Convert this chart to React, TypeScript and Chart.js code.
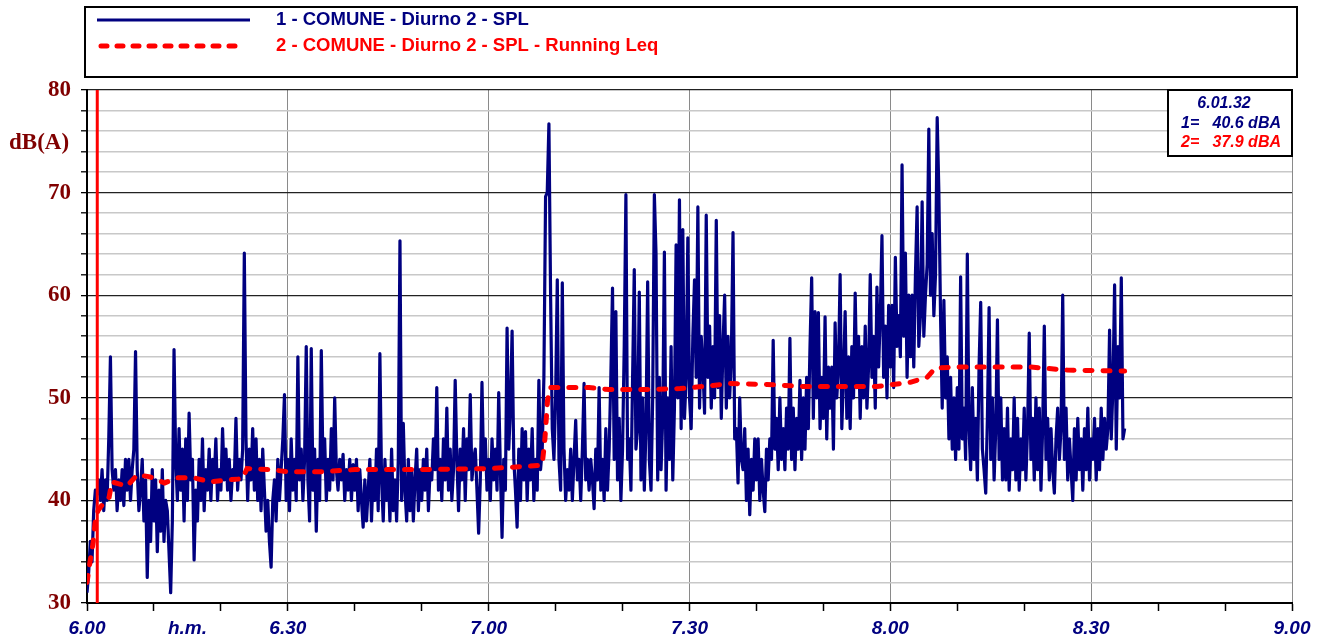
import { useEffect, useRef } from 'react';
import { Chart, registerables } from 'chart.js';

Chart.register(...registerables);

// ---- data ----
const SAMPLE_STEP_MIN = 0.25; // minutes between SPL samples (starting at 6.00)

// SPL values, 4 per minute (6.00 .. 8.35)
const splValues = [
  31, 33, 36, 34, 39, 41, 40.6, 42, 40, 43, 39, 42, 40, 46, 54, 43, 41, 43, 39, 42,
  40, 43, 39.5, 44, 41, 44, 40, 43, 45, 54.5, 43, 39, 41, 44, 38, 42, 32.5, 40, 36, 43,
  38, 42, 35, 41, 37, 43, 36, 40, 39, 35, 31, 38, 54.7, 44, 40, 47, 41, 45, 38, 46,
  40, 48.5, 42, 44, 34.2, 41, 38, 44, 40, 46, 39, 43, 41, 45, 40, 44, 42, 46, 40, 43,
  41, 47, 42, 45, 41, 44, 40, 43, 42, 48, 41, 44, 42, 45, 64.1, 46, 40, 45, 42, 47,
  41, 46, 40, 44, 39, 45, 41, 37, 40, 36, 33.5, 40, 42, 38, 44, 40, 43, 46, 50.3, 40,
  44, 39, 46, 41, 44, 40, 54, 42, 45, 40, 44, 55, 42, 38, 54.8, 41, 45, 37, 44, 40,
  54.6, 43, 46, 40, 44, 41, 47, 42, 50, 43, 41, 44, 42, 44.5, 40, 43, 41, 44, 40, 43.5,
  41, 44, 39, 43, 40, 37.4, 42, 38, 41, 44, 38, 43, 40, 45, 39, 54.3, 42, 38, 44, 40,
  43, 38, 45, 39, 42, 38, 44, 65.3, 40, 47.5, 41, 38, 44, 39, 43, 38, 42, 45, 39, 43,
  40, 44, 41, 45, 39, 43, 42, 46, 43, 51, 41, 44, 40, 46, 42, 49, 41, 45, 40, 43,
  51.7, 44, 39, 45, 42, 47, 40, 46, 43, 50.3, 42, 44, 45, 41, 36.8, 42, 51.5, 43, 46, 41,
  44, 40, 46, 42, 45, 41, 50.5, 43, 36.4, 44, 41, 56.8, 45, 49, 56.5, 44, 41, 37.4, 45, 40,
  47, 42, 46.7, 40, 45, 42, 47, 40, 44, 41, 51.7, 43, 45, 52, 69.6, 70, 76.7, 60, 47, 44,
  50, 61.5, 44, 41, 61.2, 45, 40, 43, 41, 45, 40, 44, 47.8, 42, 44, 40, 45, 51.4, 42, 44,
  41, 44, 42, 39.2, 45, 42, 51, 41, 44, 40, 47, 41, 45, 52, 60.7, 44, 58.4, 42, 48, 40,
  45, 55, 69.8, 44, 46, 41, 52, 62.5, 45, 47, 60.3, 42, 50, 41, 47, 61.3, 44, 41, 50, 69.8,
  64, 42, 52, 43, 48, 64.2, 41, 50, 44, 55, 42, 49, 64.9, 50, 69.3, 47, 66.4, 48, 52, 65.6,
  50, 47, 56, 61.5, 52, 68.6, 49, 56, 53, 48.5, 67.8, 52, 57, 49, 55, 50, 67.3, 51, 58, 48,
  55, 60, 49, 56, 50, 54, 66.1, 46, 47, 41.7, 50, 44, 43, 47, 40, 45, 38.6, 44, 41, 46,
  42, 46, 40, 44, 41, 38.9, 45, 42, 46, 44, 55.6, 45, 48, 43, 50, 44, 47, 43, 49, 45,
  55.8, 44, 49, 43, 48, 45, 51.7, 44, 50, 45, 52, 47, 55, 61.7, 48, 58.4, 50, 58.3, 47, 52,
  48, 57.9, 46, 53, 49, 53, 45, 57.3, 50, 53, 62, 47, 52, 58.4, 48, 54, 47, 55, 50, 60.2,
  51, 56, 48, 55, 50, 57, 49, 53, 62, 52, 56, 49, 60.8, 53, 58, 65.8, 52, 57, 50, 59,
  53, 59, 51, 63.7, 55, 58, 54, 72.7, 56, 64.1, 52, 60, 54, 60, 53, 62, 68.6, 55, 58, 69.1,
  56, 60, 63, 76.2, 60, 66, 58, 62, 77.3, 70, 58, 49, 59.5, 50, 54, 46, 52, 45, 50, 44,
  51, 45, 61.8, 46, 49, 44, 64, 47, 43, 51, 44, 48, 42, 53, 59.3, 45, 43, 40.7, 48, 58.8,
  44, 50, 42, 47, 57.6, 44, 50, 42, 47, 42, 49, 41, 46, 43, 50, 42, 48, 41, 46, 43,
  49, 42, 47, 56.3, 44, 48, 42, 50, 43, 49, 41, 47, 57, 44, 48, 42, 47, 43, 40.7, 46,
  49, 44, 47, 60, 44, 49, 42, 46, 43, 40, 47, 42, 48, 43, 46, 41, 47, 43, 49, 42,
  46, 44, 48, 42, 47, 43, 49, 44, 48, 45, 47, 56.6, 46, 51, 61, 45, 55, 50, 61.7, 46,
  47,
];

// Running Leq (minutes after 6.00, dBA)
const leqTimes = [
  0, 0.45, 0.9, 1.2, 1.65, 2.2, 3.3, 3.7, 6, 7.5, 9.4, 11.6, 13.4, 16, 18.4, 21, 23.2, 23.9,
  27.3, 30, 35, 40, 50, 60, 67.5, 68, 68.4, 68.8, 69.2, 75, 78, 83, 88.6, 93.5, 96, 101.6,
  107, 118, 120.4, 122.9, 125.5, 126.7, 130, 141, 146.4, 155,
];
const leqValues = [
  32, 34, 35.8, 37.8, 39, 39.5, 40.3, 41.8, 41.4, 42.5, 42.3, 41.7, 42.2, 42.2, 41.8, 42, 42.1, 43.1,
  43, 42.8, 42.8, 43, 43, 43.1, 43.4, 43.5, 46, 49.8, 51, 51, 50.8, 50.8, 50.9, 51.2, 51.4, 51.3,
  51.1, 51.1, 51.3, 51.5, 52, 52.9, 53, 53, 52.7, 52.6,
];

const xTickMinutes = [0, 10, 20, 30, 40, 50, 60, 70, 80, 90, 100, 110, 120, 130, 140, 150, 160, 170, 180];
const xUnitMinute = 15;
const xUnitLabel = 'h.m.';
const yUnitLabel = 'dB(A)';
const startHour = 6;

const legendLabels = ['1 - COMUNE - Diurno 2 - SPL', '2 - COMUNE - Diurno 2 - SPL - Running Leq'];
const cursorMinute = 1 + 32 / 60;
const cursorTime = '6.01.32';
const cursorSpl = '40.6 dBA';
const cursorLeq = '37.9 dBA';

const NAVY = '#000080';
const RED = '#ff0000';
const MAROON = '#800000';

function fmtMinute(v: number) {
  const h = startHour + Math.floor(v / 60);
  const m = Math.round(v % 60);
  return `${h}.${String(m).padStart(2, '0')}`;
}

const overlayPlugin = {
  id: 'overlay',
  afterDatasetsDraw(chart: any) {
    const { ctx, chartArea, scales } = chart;
    const x = scales.x.getPixelForValue(cursorMinute);
    ctx.save();
    ctx.strokeStyle = RED;
    ctx.lineWidth = 3;
    ctx.beginPath();
    ctx.moveTo(x, chartArea.top);
    ctx.lineTo(x, chartArea.bottom);
    ctx.stroke();
    ctx.restore();
  },
  afterDraw(chart: any) {
    const { ctx, chartArea } = chart;
    ctx.save();
    // legend box
    ctx.strokeStyle = '#000';
    ctx.lineWidth = 2;
    ctx.strokeRect(85, 7, 1212, 70);
    ctx.strokeStyle = NAVY;
    ctx.lineWidth = 3;
    ctx.beginPath();
    ctx.moveTo(97, 20);
    ctx.lineTo(250, 20);
    ctx.stroke();
    ctx.strokeStyle = RED;
    ctx.lineWidth = 5;
    ctx.lineCap = 'round';
    ctx.setLineDash([6, 10]);
    ctx.beginPath();
    ctx.moveTo(101, 46);
    ctx.lineTo(245, 46);
    ctx.stroke();
    ctx.setLineDash([]);
    ctx.lineCap = 'butt';
    ctx.font = 'bold 18.5px "Liberation Sans", Arial, sans-serif';
    ctx.textBaseline = 'middle';
    ctx.textAlign = 'left';
    ctx.fillStyle = NAVY;
    ctx.fillText(legendLabels[0], 276, 20);
    ctx.fillStyle = RED;
    ctx.fillText(legendLabels[1], 276, 46);

    // y unit
    ctx.font = 'bold 23px "Liberation Serif", "Times New Roman", serif';
    ctx.fillStyle = MAROON;
    ctx.fillText(yUnitLabel, 9, 143);

    // cursor info box
    const bx = 1168;
    const by = chartArea.top;
    const bw = chartArea.right - bx;
    const bh = 66;
    ctx.fillStyle = '#fff';
    ctx.fillRect(bx, by, bw, bh);
    ctx.strokeStyle = '#000';
    ctx.lineWidth = 2;
    ctx.strokeRect(bx, by, bw, bh);
    ctx.font = 'bold italic 16px "Liberation Sans", Arial, sans-serif';
    ctx.fillStyle = NAVY;
    ctx.textAlign = 'center';
    ctx.fillText(cursorTime, 1224, by + 14);
    ctx.textAlign = 'left';
    ctx.fillText('1=', 1181, by + 34);
    ctx.textAlign = 'right';
    ctx.fillText(cursorSpl, 1281, by + 34);
    ctx.fillStyle = RED;
    ctx.textAlign = 'left';
    ctx.fillText('2=', 1181, by + 53);
    ctx.textAlign = 'right';
    ctx.fillText(cursorLeq, 1281, by + 53);
    ctx.restore();
  },
};

export default function App() {
  const canvasRef = useRef<HTMLCanvasElement | null>(null);

  useEffect(() => {
    document.body.style.margin = '0';
    const canvas = canvasRef.current;
    if (!canvas) return;
    const splData = splValues.map((v, i) => ({ x: i * SAMPLE_STEP_MIN, y: v }));
    const leqData = leqValues.map((v, i) => ({ x: leqTimes[i], y: v }));

    const chart = new Chart(canvas, {
      type: 'line',
      data: {
        datasets: [
          {
            label: legendLabels[0],
            data: splData,
            borderColor: NAVY,
            borderWidth: 3.2,
            borderJoinStyle: 'round',
            pointRadius: 0,
            tension: 0,
            order: 2,
          },
          {
            label: legendLabels[1],
            data: leqData,
            borderColor: RED,
            borderWidth: 5,
            borderDash: [7, 11],
            borderCapStyle: 'round',
            pointRadius: 0,
            tension: 0,
            order: 1,
          },
        ],
      },
      options: {
        animation: false,
        responsive: false,
        devicePixelRatio: 1,
        parsing: false,
        normalized: true,
        events: [],
        layout: { padding: { top: 90, right: 33, left: 0, bottom: 0 } },
        plugins: {
          legend: { display: false },
          tooltip: { enabled: false },
          title: { display: false },
        },
        scales: {
          x: {
            type: 'linear',
            min: 0,
            max: 180,
            afterBuildTicks: (scale: any) => {
              const vals = xTickMinutes.concat([xUnitMinute]).sort((a, b) => a - b);
              scale.ticks = vals.map((v) => ({ value: v }));
            },
            afterFit: (scale: any) => {
              scale.height = 38;
            },
            ticks: {
              autoSkip: false,
              maxRotation: 0,
              minRotation: 0,
              padding: 6,
              color: NAVY,
              font: { family: '"Liberation Sans", Arial, sans-serif', size: 19, weight: 'bold', style: 'italic' },
              callback: (value: any) => {
                const v = Number(value);
                if (v === xUnitMinute) return xUnitLabel;
                return v % 30 === 0 ? fmtMinute(v) : '';
              },
            },
            grid: {
              drawOnChartArea: true,
              drawTicks: true,
              tickLength: 8,
              lineWidth: 1,
              color: (ctx: any) => (ctx.tick && ctx.tick.value % 30 === 0 ? '#8a8a8a' : 'rgba(0,0,0,0)'),
              tickColor: (ctx: any) => (ctx.tick && ctx.tick.value === xUnitMinute ? 'rgba(0,0,0,0)' : '#000'),
              tickWidth: 1.5,
            },
            border: { display: true, color: '#000', width: 2 },
          },
          y: {
            type: 'linear',
            min: 30,
            max: 80,
            afterFit: (scale: any) => {
              scale.width = 87;
            },
            ticks: {
              stepSize: 2,
              autoSkip: false,
              padding: 10,
              color: MAROON,
              font: { family: '"Liberation Serif", "Times New Roman", serif', size: 23, weight: 'bold' },
              callback: (value: any) => {
                const v = Number(value);
                return v % 10 === 0 ? String(v) : '';
              },
            },
            grid: {
              drawTicks: true,
              tickLength: 6,
              color: (ctx: any) => (ctx.tick && ctx.tick.value % 10 === 0 ? '#222' : '#c8c8c8'),
              lineWidth: (ctx: any) => (ctx.tick && ctx.tick.value % 10 === 0 ? 1.3 : 1.6),
              tickColor: '#000',
              tickWidth: 1.3,
            },
            border: { display: true, color: '#000', width: 2 },
          },
        },
      },
      plugins: [overlayPlugin],
    } as any);

    return () => {
      chart.destroy();
    };
  }, []);

  return (
    <canvas
      ref={canvasRef}
      width={1325}
      height={641}
      style={{ display: 'block', width: '1325px', height: '641px' }}
    />
  );
}
